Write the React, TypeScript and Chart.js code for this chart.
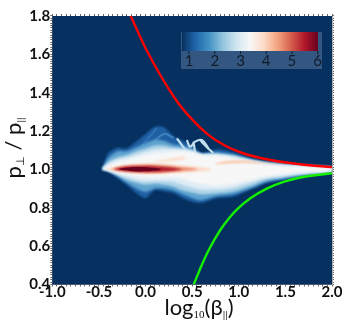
import React, { useEffect, useRef } from "react";
import { Chart, registerables } from "chart.js";

const xTickLabels = [-1.0, -0.5, 0.0, 0.5, 1.0, 1.5, 2.0];
const yTickLabels = [0.4, 0.6, 0.8, 1.0, 1.2, 1.4, 1.6, 1.8];
const colorbarTicks = [1, 2, 3, 4, 5, 6];
const colorbarStops = ["#05305f", "#2166ac", "#4393c3", "#92c5de", "#d1e5f0", "#f7f7f7", "#fddbc7", "#f4a582", "#d6604d", "#b2182b", "#67001f"];

const redX = [-0.159, 0.013, 0.316, 0.496, 0.674, 0.85, 1.03, 1.3, 1.658, 2.0];
const redY = [1.8, 1.62, 1.37, 1.262, 1.18, 1.125, 1.087, 1.053, 1.027, 1.012];
const greenX = [0.517, 0.6, 0.674, 0.8, 0.9, 0.979, 1.12, 1.3, 1.48, 1.66, 2.0];
const greenY = [0.4, 0.498, 0.576, 0.683, 0.748, 0.79, 0.848, 0.9, 0.935, 0.958, 0.98];

const knots = [-0.46, -0.4, -0.3, -0.2, -0.1, 0, 0.1, 0.2, 0.3, 0.4, 0.5, 0.6, 0.76, 0.94, 1.12, 1.3, 1.47, 1.66, 2.0];
const outerUp = [1.01, 1.084, 1.113, 1.11, 1.145, 1.185, 1.223, 1.22, 1.174, 1.15, 1.125, 1.085, 1.105, 1.09, 1.06, 1.04, 1.03, 1.025, 1.012];
const outerLo = [0.998, 0.988, 0.954, 0.919, 0.877, 0.85, 0.893, 0.885, 0.877, 0.85, 0.832, 0.825, 0.85, 0.858, 0.893, 0.93, 0.945, 0.962, 0.985];
const midUp = [1.008, 1.06, 1.095, 1.095, 1.115, 1.137, 1.155, 1.15, 1.13, 1.125, 1.11, 1.082, 1.09, 1.078, 1.055, 1.036, 1.027, 1.022, 1.011];
const midLo = [0.999, 0.99, 0.965, 0.93, 0.9, 0.882, 0.9, 0.9, 0.89, 0.87, 0.85, 0.84, 0.86, 0.87, 0.9, 0.935, 0.95, 0.966, 0.987];
const paleUp = [1.006, 1.04, 1.065, 1.075, 1.095, 1.11, 1.125, 1.125, 1.115, 1.11, 1.1, 1.08, 1.082, 1.072, 1.05, 1.033, 1.024, 1.02, 1.01];
const paleLo = [1.0, 0.993, 0.968, 0.945, 0.93, 0.92, 0.925, 0.92, 0.91, 0.89, 0.88, 0.87, 0.875, 0.885, 0.912, 0.945, 0.957, 0.972, 0.99];
const iceUp = [1.005, 1.03, 1.052, 1.062, 1.078, 1.092, 1.105, 1.108, 1.105, 1.102, 1.095, 1.078, 1.078, 1.066, 1.047, 1.031, 1.022, 1.018, 1.009];
const iceLo = [1.0, 0.994, 0.975, 0.958, 0.945, 0.938, 0.94, 0.938, 0.935, 0.92, 0.905, 0.895, 0.895, 0.905, 0.93, 0.955, 0.966, 0.978, 0.992];
const whiteUp = [1.004, 1.02, 1.04, 1.05, 1.062, 1.075, 1.085, 1.09, 1.095, 1.095, 1.09, 1.075, 1.072, 1.06, 1.043, 1.029, 1.02, 1.015, 1.008];
const whiteLo = [1.001, 0.995, 0.982, 0.972, 0.962, 0.955, 0.955, 0.957, 0.958, 0.95, 0.935, 0.925, 0.915, 0.925, 0.945, 0.965, 0.975, 0.985, 0.995];

const peachX = [-0.42, -0.3, -0.1, 0.1, 0.3, 0.5, 0.7];
const peachUp = [1.004, 1.018, 1.028, 1.032, 1.026, 1.016, 1.004];
const peachLo = [1.0, 0.99, 0.978, 0.975, 0.98, 0.987, 0.996];
const salmonX = [-0.36, -0.2, 0, 0.2, 0.35, 0.55];
const salmonUp = [1.004, 1.018, 1.024, 1.02, 1.013, 1.004];
const salmonLo = [1.0, 0.988, 0.982, 0.984, 0.99, 0.998];
const redCoreX = [-0.33, -0.2, 0, 0.2, 0.38];
const redCoreUp = [1.004, 1.015, 1.018, 1.013, 1.003];
const redCoreLo = [1.0, 0.991, 0.986, 0.989, 0.998];
const darkCoreX = [-0.28, -0.15, 0, 0.16];
const darkCoreUp = [1.005, 1.012, 1.012, 1.004];
const darkCoreLo = [0.999, 0.991, 0.99, 0.997];

const patchX = [0.75, 0.85, 1.0, 1.2, 1.4, 1.5];
const patchUp = [1.03, 1.042, 1.046, 1.04, 1.032, 1.028];
const patchLo = [1.026, 1.03, 1.033, 1.032, 1.028, 1.026];
const patch2X = [0.1, 0.25, 0.42];
const patch2Up = [1.045, 1.055, 1.068];
const patch2Lo = [1.04, 1.042, 1.055];

const filamentA = [[0.336, 1.162], [0.39, 1.127], [0.443, 1.093]];
const filamentB = [[0.443, 1.153], [0.479, 1.119], [0.532, 1.145], [0.604, 1.153], [0.675, 1.11]];
const filamentC = [[0.515, 1.145], [0.532, 1.084]];
const filamentD = [[0.585, 1.153], [0.65, 1.12], [0.725, 1.086]];
const wispA = [[-0.05, 1.12], [0.05, 1.175], [0.12, 1.215]];
const wispB = [[0.08, 1.14], [0.2, 1.185], [0.3, 1.165]];

const loop = (x: number[], up: number[], lo: number[]) => [
  ...x.map((v, i) => ({ x: v, y: up[i] })),
  ...x.slice().reverse().map((v, i) => ({ x: v, y: lo[x.length - 1 - i] })),
];
const band = (x: number[], up: number[], lo: number[], color: string, blur = 1) => ({
  type: "line",
  data: loop(x, up, lo),
  borderWidth: 0,
  pointRadius: 0,
  backgroundColor: color,
  borderColor: color,
  fill: "shape",
  tension: 0.25,
  blur,
});
const curve = (x: number[], y: number[], color: string) => ({
  type: "line",
  data: x.map((v, i) => ({ x: v, y: y[i] })),
  borderColor: color,
  borderWidth: 2.4,
  pointRadius: 0,
  fill: false,
  cubicInterpolationMode: "monotone",
});
const filament = (p: number[][], color = "#c3dfef", w = 2.2) => ({
  type: "line",
  data: p.map(([x, y]) => ({ x, y })),
  borderColor: color,
  borderWidth: w,
  pointRadius: 0,
  fill: false,
  tension: 0.4,
  blur: 0.6,
});

const blurPlugin = {
  id: "bandBlur",
  beforeDatasetDraw(chart: any, args: any) {
    const b = chart.data.datasets[args.index].blur;
    chart.ctx.save();
    if (b) chart.ctx.filter = `blur(${b}px)`;
  },
  afterDatasetDraw(chart: any) {
    chart.ctx.restore();
  },
};
Chart.register(blurPlugin, ...registerables);

const FONT = "Lato";

const runs = (ctx: any, parts: [string, number, string][], cx: number, cy: number) => {
  let w = 0;
  parts.forEach(([t, s, f]) => {
    ctx.font = `${s}px ${f}`;
    w += ctx.measureText(t).width;
  });
  let x = cx - w / 2;
  ctx.textAlign = "left";
  ctx.textBaseline = "alphabetic";
  parts.forEach(([t, s, f]) => {
    ctx.font = `${s}px ${f}`;
    const dy = s < 14 ? 3 : 0;
    ctx.fillText(t, x, cy + dy);
    x += ctx.measureText(t).width;
  });
};

const decor = {
  id: "decor",
  beforeDatasetsDraw(chart: any) {
    const { ctx, chartArea: a } = chart;
    ctx.save();
    ctx.fillStyle = "#05305f";
    ctx.fillRect(a.left, a.top, a.width, a.height);
    ctx.restore();
  },
  afterDraw(chart: any) {
    const { ctx } = chart;
    ctx.save();
    ctx.fillStyle = "rgba(90,120,155,0.55)";
    ctx.fillRect(181, 32, 141, 37);
    const g = ctx.createLinearGradient(182, 0, 318, 0);
    colorbarStops.forEach((c, i) => g.addColorStop(i / (colorbarStops.length - 1), c));
    ctx.fillStyle = g;
    ctx.fillRect(182, 32, 136, 19);
    ctx.fillStyle = "#0f1c2e";
    ctx.font = `15px ${FONT}`;
    ctx.textAlign = "center";
    ctx.textBaseline = "middle";
    colorbarTicks.forEach((t, i) => {
      const x = 189 + (i * (317.7 - 189)) / 5;
      ctx.fillText(String(t), x, 61.5);
      ctx.fillRect(x - 0.5, 51, 1, 3);
    });
    ctx.fillStyle = "#111";
    runs(ctx, [["log", 22, FONT], ["10", 11, "Liberation Serif"], ["(β", 22, FONT], ["||", 10, FONT], [")", 22, FONT]], 199, 315);
    ctx.translate(21, 148);
    ctx.rotate(-Math.PI / 2);
    runs(ctx, [["p", 22, FONT], ["⊥", 11, FONT], [" / p", 22, FONT], ["||", 10, FONT]], 0, 0);
    ctx.restore();
  },
};

const gridOpts = {
  drawOnChartArea: false,
  drawTicks: true,
  tickLength: 2,
  tickColor: "#666",
  lineWidth: 1,
};

const majors = (vals: number[]) => (v: any) =>
  vals.some((m) => Math.abs(m - Number(v)) < 1e-6) ? Number(v).toFixed(1) : "";
const xMinor = (s: any) => { s.ticks = Array.from({ length: 61 }, (_, i) => ({ value: -1 + i * 0.05 })); };
const yMinor = (s: any) => { s.ticks = Array.from({ length: 113 }, (_, i) => ({ value: 0.4 + i * 0.0125 })); };

export default function App() {
  const ref = useRef<HTMLCanvasElement>(null);
  useEffect(() => {
    const tickFont = { family: FONT, size: 15, weight: "bold" as const };
    const chart = new Chart(ref.current!, {
      type: "line",
      data: {
        datasets: [
          curve(redX, redY, "#ff0000"),
          curve(greenX, greenY, "#14f000"),
          band(darkCoreX, darkCoreUp, darkCoreLo, "#67001f", 0.6),
          band(redCoreX, redCoreUp, redCoreLo, "#b2182b", 0.8),
          band(salmonX, salmonUp, salmonLo, "#e8896b", 1),
          band(peachX, peachUp, peachLo, "#fddbc7", 1.2),
          band(patchX, patchUp, patchLo, "#fbc4a6", 1),
          band(patch2X, patch2Up, patch2Lo, "#fddbc7", 1),
          band(knots, whiteUp, whiteLo, "#f7f7f7", 1.5),
          band(knots, iceUp, iceLo, "#deecf5", 1.3),
          band(knots, paleUp, paleLo, "#b0d4e8", 1.3),
          filament(filamentA),
          filament(filamentB),
          filament(filamentC),
          filament(filamentD),
          band(knots, midUp, midLo, "#5ea3cf", 1),
          filament(wispA, "#2c73b4", 2),
          filament(wispB, "#3b84bf", 2),
          band(knots, outerUp, outerLo, "#1f5fa3", 1),
        ] as any,
      },
      options: {
        animation: false,
        responsive: false,
        layout: { padding: 0 },
        plugins: { legend: { display: false }, tooltip: { enabled: false } },
        scales: {
          x: {
            type: "linear",
            min: -1,
            max: 2,
            afterFit: (s: any) => { s.height = 39.5; },
            afterBuildTicks: xMinor,
            border: { color: "#888" },
            grid: gridOpts,
            ticks: { autoSkip: false, maxRotation: 0, padding: -3, color: "#111", font: tickFont, callback: majors(xTickLabels) },
          },
          xTop: {
            type: "linear",
            position: "top",
            min: -1,
            max: 2,
            afterFit: (s: any) => { s.height = 16; },
            afterBuildTicks: xMinor,
            border: { color: "#888" },
            grid: gridOpts,
            ticks: { autoSkip: false, maxRotation: 0, callback: () => "" },
          },
          y: {
            type: "linear",
            min: 0.4,
            max: 1.8,
            afterFit: (s: any) => { s.width = 52.3; },
            afterBuildTicks: yMinor,
            border: { color: "#888" },
            grid: gridOpts,
            ticks: { autoSkip: false, padding: 0, color: "#111", font: tickFont, callback: majors(yTickLabels) },
          },
          yRight: {
            type: "linear",
            position: "right",
            min: 0.4,
            max: 1.8,
            afterFit: (s: any) => { s.width = 17; },
            afterBuildTicks: yMinor,
            border: { color: "#aaa" },
            grid: gridOpts,
            ticks: { autoSkip: false, callback: () => "" },
          },
        },
      },
      plugins: [decor],
    } as any);
    return () => chart.destroy();
  }, []);
  return (
    <div style={{ position: "absolute", left: 0, top: 0, width: 349, height: 324, background: "#fff" }}>
      <canvas ref={ref} width={349} height={324} style={{ display: "block" }} />
    </div>
  );
}
